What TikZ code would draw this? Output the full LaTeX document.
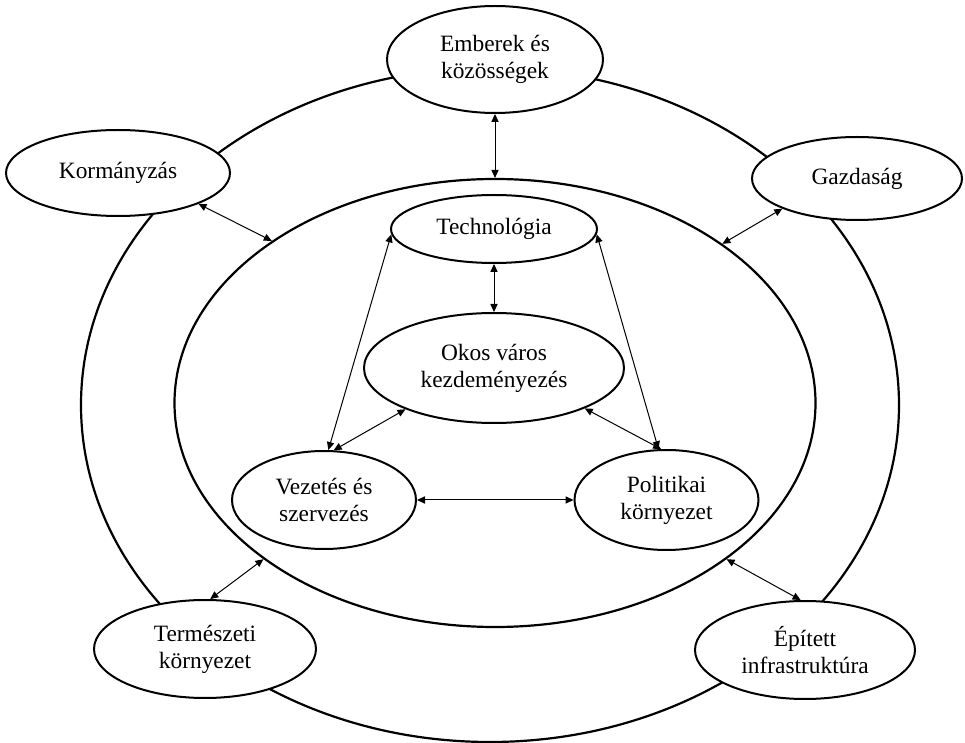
\documentclass[tikz,border=0pt]{standalone}
\usepackage{fontspec}
\setmainfont{Liberation Serif}
\usetikzlibrary{shapes.geometric,arrows.meta}
\tikzset{
  ring/.style={draw, ellipse, line width=1.1pt, inner sep=0pt, fill=white},
  bub/.style={draw, ellipse, line width=1pt, inner sep=0pt, fill=white, align=center,
    font=\fontsize{11.7}{13.5}\selectfont},
  link/.style={line width=0.5pt, {Triangle[length=4pt,width=3.6pt]}-{Triangle[length=4pt,width=3.6pt]}},
}
\begin{document}
\begin{tikzpicture}[x=0.5pt,y=-0.5pt]
\useasboundingbox (0,0) rectangle (965,743);
\node[ring, minimum width=409pt, minimum height=337pt] (outer) at (490,405) {};
\node[ring, minimum width=320.5pt, minimum height=224pt] (inner) at (495,403) {};
\node[bub, minimum width=108pt, minimum height=53.5pt] (emb) at (495,59.5) {Emberek és\\közösségek};
\node[bub, minimum width=112pt, minimum height=43pt] (korm) at (118,173) {Kormányzás};
\node[bub, minimum width=105pt, minimum height=41.5pt] (gazd) at (857,178.5) {Gazdaság};
\node[bub, minimum width=103pt, minimum height=34pt] (tech) at (494,229) {Technológia};
\node[bub, minimum width=130pt, minimum height=55pt] (okos) at (494,368) {Okos város\\kezdeményezés};
\node[bub, minimum width=92pt, minimum height=49pt] (vez) at (324,500) {Vezetés és\\szervezés};
\node[bub, minimum width=92pt, minimum height=50pt] (pol) at (666.5,500) {Politikai\\környezet};
\node[bub, minimum width=111pt, minimum height=49pt] (term) at (205,649) {Természeti\\környezet};
\node[bub, minimum width=110pt, minimum height=49pt] (epit) at (805,650) {Épített\\infrastruktúra};
\draw[link] (emb.south) -- (inner.north);
\draw[link] (korm.-21) -- (inner.144.8);
\draw[link] (gazd.202.8) -- (inner.35);
\draw[link] (term.84.5) -- (inner.214.5);
\draw[link] (epit.95.5) -- (inner.-34.3);
\draw[link] (tech.south) -- (okos.north);
\draw[link] (tech.183.3) -- (vez.85.6);
\draw[link] (tech.-3.3) -- (pol.99.8);
\draw[link] (okos.205.3) -- (vez.79.6);
\draw[link] (okos.-24.4) -- (pol.96.8);
\draw[link] (vez.east) -- (pol.west);
\end{tikzpicture}
\end{document}
